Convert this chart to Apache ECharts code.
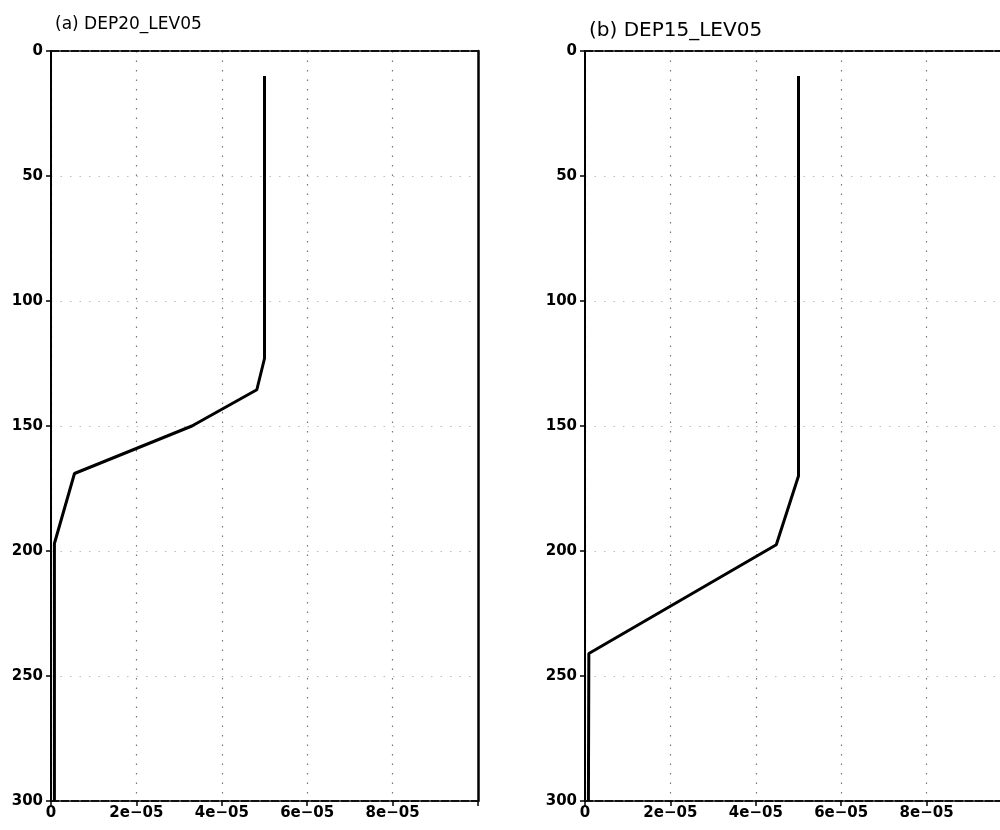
<!DOCTYPE html>
<html>
<head>
<meta charset="utf-8">
<title>DEP20_LEV05 / DEP15_LEV05</title>
<script src="https://cdn.jsdelivr.net/npm/echarts@6/dist/echarts.min.js"></script>
<style>
  html, body { margin: 0; padding: 0; background: #fff; width: 1000px; height: 830px; overflow: hidden; }
  /* canvas is a little wider than the page: panel (b) runs off the right edge */
  #chart { width: 1030px; height: 830px; }
</style>
</head>
<body>
<div id="chart"></div>
<script>
// Vertical profiles: depth (y, downward) against value (x)
const panelTitles = ['(a) DEP20_LEV05', '(b) DEP15_LEV05'];

const depthA   = [10, 123, 135.5, 150, 169, 197, 300];
const profileA = [5.0e-5, 5.0e-5, 4.82e-5, 3.3e-5, 0.55e-5, 0.08e-5, 0.08e-5];

const depthB   = [10, 170, 197.5, 241, 300];
const profileB = [5.0e-5, 5.0e-5, 4.48e-5, 0.09e-5, 0.08e-5];

const xTickLabels = ['0', '2e\u221205', '4e\u221205', '6e\u221205', '8e\u221205', ''];
const depthMin = 0, depthMax = 300, depthStep = 50;
const valueMin = 0, valueMax = 1e-4, valueStep = 2e-5;

const toPairs = (xs, ys) => xs.map((x, i) => [x, ys[i]]);

const labelFont = { fontFamily: 'DejaVu Sans', fontWeight: 'bold', fontSize: 15, color: '#000' };

function bottomAxis(gridIndex) {
  return {
    type: 'value', gridIndex, position: 'bottom',
    min: valueMin, max: valueMax, interval: valueStep,
    axisLine: { show: true, onZero: false, lineStyle: { color: '#111', width: 2, type: [8, 2] } },
    axisTick: { show: true, length: 5, lineStyle: { color: '#000', width: 1.5 } },
    axisLabel: Object.assign({ margin: 5, formatter: (v, i) => xTickLabels[i] }, labelFont),
    splitLine: { show: true, lineStyle: { color: '#777', width: 1.2, type: [1.5, 8] } }
  };
}
function topAxis(gridIndex) {
  return {
    type: 'value', gridIndex, position: 'top',
    min: valueMin, max: valueMax, interval: valueStep,
    axisLine: { show: true, onZero: false, lineStyle: { color: '#111', width: 2, type: [8, 2] } },
    axisTick: { show: false }, axisLabel: { show: false }, splitLine: { show: false }
  };
}
function leftAxis(gridIndex) {
  return {
    type: 'value', gridIndex, position: 'left', inverse: true,
    min: depthMin, max: depthMax, interval: depthStep,
    axisLine: { show: true, onZero: false, lineStyle: { color: '#000', width: 2 } },
    axisTick: { show: true, length: 5, lineStyle: { color: '#000', width: 1.5 } },
    axisLabel: Object.assign({ margin: 8 }, labelFont),
    splitLine: { show: true, lineStyle: { color: '#bbb', width: 1.2, type: [1.5, 8] } }
  };
}
function rightAxis(gridIndex) {
  return {
    type: 'value', gridIndex, position: 'right', inverse: true,
    min: depthMin, max: depthMax, interval: depthStep,
    axisLine: { show: true, onZero: false, lineStyle: { color: '#000', width: 2.5 } },
    axisTick: { show: false }, axisLabel: { show: false }, splitLine: { show: false }
  };
}

const chart = echarts.init(document.getElementById('chart'), null, { renderer: 'canvas' });
chart.setOption({
  backgroundColor: '#fff',
  animation: false,
  title: [
    { text: panelTitles[0], left: 50, top: 11,
      textStyle: { fontFamily: 'DejaVu Sans', fontWeight: 'normal', fontSize: 17, color: '#000' } },
    { text: panelTitles[1], left: 584, top: 16,
      textStyle: { fontFamily: 'DejaVu Sans', fontWeight: 'normal', fontSize: 20, color: '#000' } }
  ],
  grid: [
    { left: 51, top: 51, width: 427, height: 750 },
    { left: 585, top: 51, width: 427, height: 750 }
  ],
  xAxis: [bottomAxis(0), topAxis(0), bottomAxis(1), topAxis(1)],
  yAxis: [leftAxis(0), rightAxis(0), leftAxis(1), rightAxis(1)],
  series: [
    { type: 'line', xAxisIndex: 0, yAxisIndex: 0, data: toPairs(profileA, depthA),
      symbol: 'none', lineStyle: { color: '#000', width: 3 }, z: 5 },
    { type: 'line', xAxisIndex: 2, yAxisIndex: 2, data: toPairs(profileB, depthB),
      symbol: 'none', lineStyle: { color: '#000', width: 3 }, z: 5 }
  ]
});
</script>
</body>
</html>
